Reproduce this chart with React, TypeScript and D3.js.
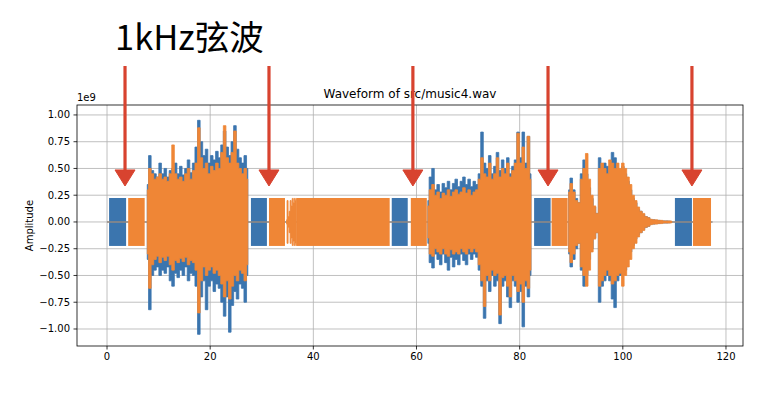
import React from 'react';
import * as d3 from 'd3';

const W = 780;
const H = 398;
const plot = { left: 77, right: 743, top: 105, bottom: 346 };

const xDomain: [number, number] = [-5.82, 123.3];
const yDomain: [number, number] = [-1.159, 1.093];

const xTicks = [0, 20, 40, 60, 80, 100, 120];
const yTicks = [-1.0, -0.75, -0.5, -0.25, 0, 0.25, 0.5, 0.75, 1.0];

const titleText = 'Waveform of src/music4.wav';
const bigLabel = '1kHz弦波';
const yLabel = 'Amplitude';
const offsetLabel = '1e9';

const dataStart = 0;
const dataEnd = 117.4;
const sineAmp = 0.224;

// 1 kHz sine test tones (seconds)
const leftSineBlocks: [number, number][] = [
  [0.4, 3.7], [27.9, 31.0], [55.2, 58.3], [82.8, 86.0], [110.1, 113.4],
];
const rightSineBlocks: [number, number][] = [
  [4.1, 7.3], [31.4, 34.5], [36.8, 54.8], [58.9, 62.0], [86.2, 89.3], [113.6, 117.1],
];

// arrow annotations (seconds)
const arrowTimes = [3.49, 31.4, 59.3, 85.5, 113.4];
const arrowHeadTop = 0.486;
const arrowTip = 0.336;

// music section 1 envelopes (start 7.8 s, 0.5 s step)
const m1Start = 7.8;
const m1LeftMax = [0.35, 0.62, 0.48, 0.45, 0.42, 0.55, 0.45, 0.5, 0.42, 0.48, 0.5, 0.55, 0.45, 0.52, 0.44, 0.5, 0.58, 0.46, 0.55, 0.7, 0.95, 0.75, 0.62, 0.68, 0.55, 0.62, 0.58, 0.66, 0.6, 0.72, 0.85, 0.7, 0.62, 0.75, 0.9, 0.68, 0.6, 0.55, 0.62, 0.5];
const m1LeftMin = [-0.35, -0.82, -0.5, -0.45, -0.42, -0.5, -0.45, -0.48, -0.42, -0.55, -0.6, -0.48, -0.52, -0.45, -0.5, -0.42, -0.55, -0.48, -0.5, -0.6, -1.05, -0.7, -0.55, -0.82, -0.6, -0.55, -0.65, -0.58, -0.62, -0.75, -0.88, -0.7, -1.03, -0.78, -0.65, -0.72, -0.58, -0.62, -0.75, -0.5];
const m1RightMax = [0.3, 0.5, 0.45, 0.4, 0.42, 0.45, 0.4, 0.42, 0.38, 0.45, 0.72, 0.45, 0.4, 0.42, 0.38, 0.45, 0.5, 0.4, 0.48, 0.55, 0.88, 0.6, 0.5, 0.55, 0.45, 0.52, 0.48, 0.55, 0.5, 0.65, 0.9, 0.6, 0.55, 0.65, 0.85, 0.55, 0.5, 0.45, 0.5, 0.4];
const m1RightMin = [-0.3, -0.62, -0.4, -0.35, -0.32, -0.38, -0.33, -0.36, -0.32, -0.4, -0.45, -0.36, -0.38, -0.34, -0.37, -0.33, -0.4, -0.36, -0.38, -0.45, -0.85, -0.55, -0.42, -0.5, -0.45, -0.42, -0.48, -0.45, -0.5, -0.58, -0.7, -0.55, -0.72, -0.6, -0.5, -0.55, -0.45, -0.48, -0.55, -0.4];

// music section 2 envelopes (start 62.2 s, 0.5 s step)
const m2Start = 62.2;
const m2LeftMax = [0.2, 0.42, 0.5, 0.3, 0.35, 0.28, 0.36, 0.32, 0.38, 0.3, 0.36, 0.4, 0.33, 0.38, 0.42, 0.35, 0.4, 0.33, 0.38, 0.35, 0.45, 0.84, 0.55, 0.5, 0.62, 0.45, 0.52, 0.65, 0.48, 0.58, 0.5, 0.6, 0.45, 0.52, 0.58, 0.84, 0.6, 0.84, 0.55, 0.8, 0.45];
const m2LeftMin = [-0.2, -0.38, -0.43, -0.3, -0.35, -0.4, -0.3, -0.38, -0.45, -0.33, -0.42, -0.35, -0.4, -0.3, -0.36, -0.4, -0.3, -0.35, -0.3, -0.33, -0.45, -0.6, -0.9, -0.55, -0.65, -0.5, -0.6, -0.55, -0.95, -0.6, -0.55, -0.7, -0.8, -0.55, -0.6, -0.75, -0.65, -0.98, -0.6, -0.7, -0.5];
const m2RightMax = [0.15, 0.3, 0.35, 0.25, 0.28, 0.22, 0.27, 0.25, 0.3, 0.24, 0.28, 0.3, 0.26, 0.28, 0.32, 0.27, 0.3, 0.25, 0.28, 0.3, 0.4, 0.6, 0.45, 0.42, 0.55, 0.4, 0.45, 0.6, 0.42, 0.5, 0.45, 0.55, 0.42, 0.48, 0.55, 0.83, 0.55, 0.7, 0.5, 0.8, 0.4];
const m2RightMin = [-0.15, -0.3, -0.32, -0.25, -0.28, -0.3, -0.25, -0.3, -0.32, -0.26, -0.3, -0.28, -0.3, -0.25, -0.28, -0.3, -0.25, -0.28, -0.25, -0.28, -0.4, -0.55, -0.79, -0.5, -0.55, -0.45, -0.5, -0.48, -0.87, -0.52, -0.5, -0.6, -0.7, -0.5, -0.55, -0.65, -0.58, -0.75, -0.55, -0.62, -0.45];

// music section 3 envelopes (start 89.5 s, 0.5 s step)
const m3Start = 89.5;
const m3LeftMax = [0.3, 0.41, 0.3, 0.22, 0.18, 0.45, 0.58, 0.45, 0.32, 0.22, 0.14, 0.08, 0.6, 0.48, 0.55, 0.52, 0.45, 0.65, 0.6, 0.5, 0.48, 0.52, 0.45, 0.38, 0.3, 0.22, 0.18, 0.12, 0.1, 0.07, 0.05, 0.04, 0.02, 0.02, 0.015, 0.015, 0.01, 0.01, 0.01, 0.008, 0.005];
const m3LeftMin = [-0.3, -0.42, -0.35, -0.25, -0.2, -0.45, -0.6, -0.5, -0.35, -0.25, -0.15, -0.1, -0.75, -0.6, -0.55, -0.5, -0.55, -0.72, -0.8, -0.55, -0.5, -0.48, -0.45, -0.35, -0.28, -0.22, -0.16, -0.12, -0.1, -0.07, -0.05, -0.04, -0.02, -0.02, -0.015, -0.015, -0.01, -0.01, -0.01, -0.008, -0.005];
const m3RightMax = [0.28, 0.36, 0.28, 0.2, 0.18, 0.4, 0.5, 0.64, 0.4, 0.25, 0.15, 0.08, 0.5, 0.55, 0.5, 0.45, 0.58, 0.55, 0.5, 0.55, 0.5, 0.55, 0.5, 0.42, 0.35, 0.25, 0.2, 0.14, 0.1, 0.08, 0.05, 0.04, 0.025, 0.02, 0.02, 0.015, 0.015, 0.01, 0.01, 0.01, 0.008];
const m3RightMin = [-0.28, -0.38, -0.3, -0.22, -0.2, -0.42, -0.5, -0.6, -0.45, -0.28, -0.16, -0.1, -0.6, -0.55, -0.5, -0.45, -0.5, -0.58, -0.55, -0.5, -0.48, -0.6, -0.5, -0.42, -0.35, -0.25, -0.2, -0.14, -0.1, -0.08, -0.05, -0.04, -0.025, -0.02, -0.02, -0.015, -0.015, -0.01, -0.01, -0.01, -0.008];

// ramp-in before the long right-channel tone (start 34.8 s, 0.2 s step)
const rampStart = 34.8;
const rampRightMax = [0.02, 0.2, 0.05, 0.1, 0.2, 0.15, 0.22, 0.18, 0.22, 0.2, 0.22];
const rampRightMin = [-0.02, -0.2, -0.05, -0.1, -0.2, -0.15, -0.22, -0.18, -0.22, -0.2, -0.22];

type Seg = { start: number; step: number; max: number[]; min: number[] };

const leftSegs: Seg[] = [
  { start: m1Start, step: 0.5, max: m1LeftMax, min: m1LeftMin },
  { start: m2Start, step: 0.5, max: m2LeftMax, min: m2LeftMin },
  { start: m3Start, step: 0.5, max: m3LeftMax, min: m3LeftMin },
];
const rightSegs: Seg[] = [
  { start: m1Start, step: 0.5, max: m1RightMax, min: m1RightMin },
  { start: m2Start, step: 0.5, max: m2RightMax, min: m2RightMin },
  { start: m3Start, step: 0.5, max: m3RightMax, min: m3RightMin },
  { start: rampStart, step: 0.2, max: rampRightMax, min: rampRightMin },
];

const BLUE = '#3b75ae';
const ORANGE = '#ef8636';
const RED = '#d8432f';
const FONT = 'DejaVu Sans, sans-serif';

export default function App() {
  const x = d3.scaleLinear().domain(xDomain).range([plot.left, plot.right]);
  const y = d3.scaleLinear().domain(yDomain).range([plot.bottom, plot.top]);

  const segPath = (s: Seg) =>
    d3
      .area<number>()
      .x((_, i) => x(s.start + i * s.step))
      .y0((_, i) => y(s.min[i]))
      .y1((d) => y(d))
      .curve(d3.curveStep)(s.max) || '';

  const blocks = (list: [number, number][], color: string, key: string) =>
    list.map(([a, b], i) => (
      <rect
        key={key + i}
        x={x(a)}
        y={y(sineAmp)}
        width={x(b) - x(a)}
        height={y(-sineAmp) - y(sineAmp)}
        fill={color}
      />
    ));

  return (
    <svg
      width={W}
      height={H}
      style={{ position: 'absolute', left: 0, top: 0, background: '#fff' }}
    >
      <rect x={0} y={0} width={W} height={H} fill="#fff" />
      <defs>
        <clipPath id="plotClip">
          <rect x={plot.left} y={plot.top} width={plot.right - plot.left} height={plot.bottom - plot.top} />
        </clipPath>
      </defs>
      {/* grid */}
      <g stroke="#b0b0b0" strokeWidth={0.8}>
        {xTicks.map((t) => (
          <line key={'gx' + t} x1={x(t)} x2={x(t)} y1={plot.top} y2={plot.bottom} />
        ))}
        {yTicks.map((t) => (
          <line key={'gy' + t} x1={plot.left} x2={plot.right} y1={y(t)} y2={y(t)} />
        ))}
      </g>
      <g clipPath="url(#plotClip)">
        {/* left channel */}
        {blocks(leftSineBlocks, BLUE, 'lb')}
        {leftSegs.map((s, i) => (
          <path key={'ls' + i} d={segPath(s)} fill={BLUE} stroke={BLUE} strokeWidth={0.8} />
        ))}
        {/* silence line */}
        <line x1={x(dataStart)} x2={x(dataEnd)} y1={y(0)} y2={y(0)} stroke="#958a82" strokeWidth={1.6} />
        {/* right channel */}
        {blocks(rightSineBlocks, ORANGE, 'rb')}
        {rightSegs.map((s, i) => (
          <path key={'rs' + i} d={segPath(s)} fill={ORANGE} stroke={ORANGE} strokeWidth={0.8} />
        ))}
      </g>
      {/* spines */}
      <rect
        x={plot.left}
        y={plot.top}
        width={plot.right - plot.left}
        height={plot.bottom - plot.top}
        fill="none"
        stroke="#000"
        strokeWidth={0.8}
      />
      {/* ticks */}
      <g fontFamily={FONT} fontSize={10} fill="#000">
        {xTicks.map((t) => (
          <g key={'xt' + t}>
            <line x1={x(t)} x2={x(t)} y1={plot.bottom} y2={plot.bottom + 3.5} stroke="#000" strokeWidth={0.8} />
            <text x={x(t)} y={plot.bottom + 14} textAnchor="middle">
              {t}
            </text>
          </g>
        ))}
        {yTicks.map((t) => (
          <g key={'yt' + t}>
            <line x1={plot.left - 3.5} x2={plot.left} y1={y(t)} y2={y(t)} stroke="#000" strokeWidth={0.8} />
            <text x={plot.left - 7} y={y(t)} dy="0.35em" textAnchor="end">
              {d3.format('.2f')(t).replace('-', '\u2212')}
            </text>
          </g>
        ))}
        <text x={plot.left} y={plot.top - 4}>
          {offsetLabel}
        </text>
        <text transform={`translate(33,${(plot.top + plot.bottom) / 2}) rotate(-90)`} textAnchor="middle">
          {yLabel}
        </text>
      </g>
      <text
        x={(plot.left + plot.right) / 2}
        y={plot.top - 7}
        textAnchor="middle"
        fontFamily={FONT}
        fontSize={12}
        fill="#000"
      >
        {titleText}
      </text>
      <text x={115} y={50} fontFamily="Noto Sans CJK SC, sans-serif" fontSize={34.5} fill="#000">
        {bigLabel}
      </text>
      {/* arrows */}
      <g fill={RED} stroke={RED}>
        {arrowTimes.map((t) => (
          <g key={'ar' + t}>
            <line x1={x(t)} x2={x(t)} y1={66} y2={y(arrowHeadTop) + 2} strokeWidth={3.2} />
            <path
              d={`M${x(t) - 10},${y(arrowHeadTop)} L${x(t) + 10},${y(arrowHeadTop)} L${x(t)},${y(arrowTip)} Z`}
              strokeWidth={1}
              strokeLinejoin="round"
            />
          </g>
        ))}
      </g>
    </svg>
  );
}
